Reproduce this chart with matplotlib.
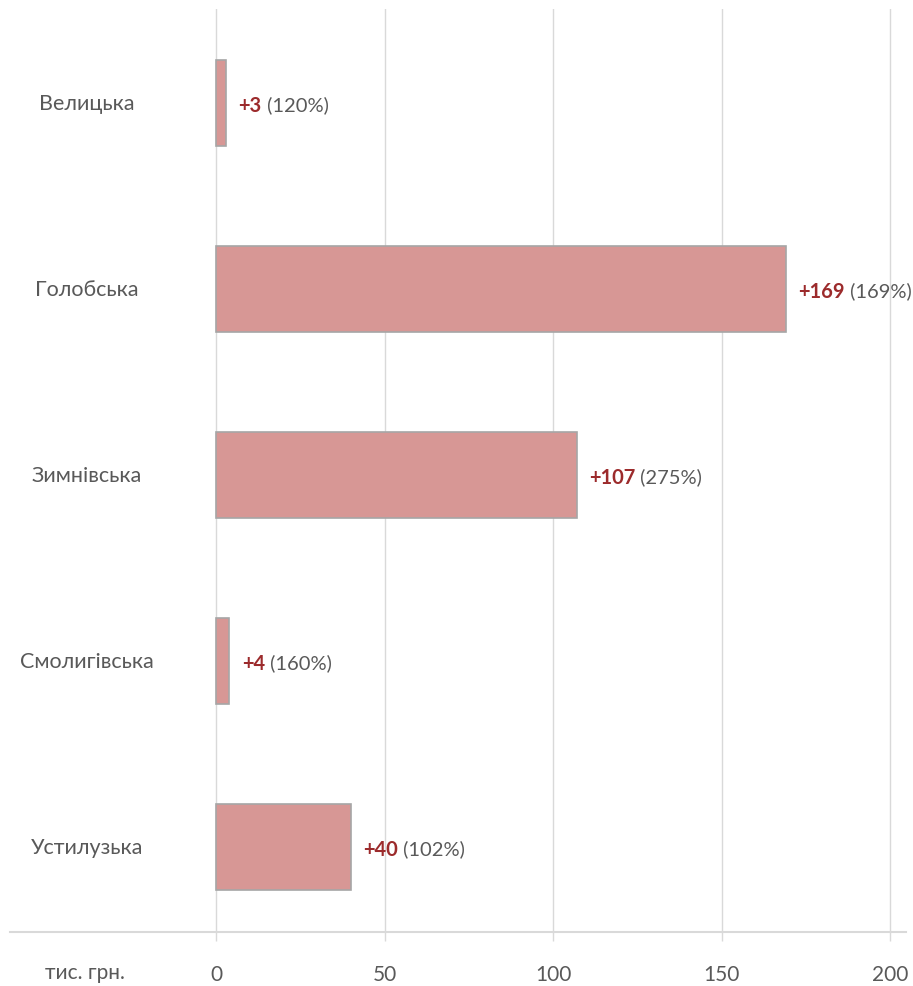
import matplotlib.pyplot as plt

categories = ['Велицька', 'Голобська', 'Зимнівська', 'Смолигівська', 'Устилузька']
values = [3, 169, 107, 4, 40]
growth = ['+3', '+169', '+107', '+4', '+40']
percents = ['(120%)', '(169%)', '(275%)', '(160%)', '(102%)']
x_ticks = [0, 50, 100, 150, 200]
unit_label = 'тис. грн.'

plt.rcParams['font.family'] = ['Lato', 'DejaVu Sans']

W, H = 913, 987
fig = plt.figure(figsize=(W / 100, H / 100), dpi=100)
ax = fig.add_axes([10 / W, 1 - 933 / H, 896 / W, 923 / H])

grid_c = '#D9D9D9'
text_c = '#595959'

pos = list(range(len(categories)))
ax.barh(pos, values, height=0.457, color='#D79795', edgecolor='#A6A6A6',
        linewidth=1.2, zorder=3)

px_per_unit = 674 / 200
ax.set_xlim(-206 / px_per_unit, 200 + 16 / px_per_unit)
ax.set_ylim((933 - 104) / 186, -94 / 186)

renderer = fig.canvas.get_renderer()
for i, (v, g, p) in enumerate(zip(values, growth, percents)):
    t = ax.annotate(g, xy=(v, i), xytext=(9, 0), textcoords='offset points',
                    ha='left', va='center_baseline', fontsize=14.5,
                    fontweight='bold', color='#9C2B2C', zorder=4)
    w_pt = t.get_window_extent(renderer).width * 72 / fig.dpi
    ax.annotate(' ' + p, xy=(v, i), xytext=(9 + w_pt, 0),
                textcoords='offset points', ha='left', va='center_baseline',
                fontsize=14.5, color=text_c, zorder=4)
    ax.text(-129 / px_per_unit, i, categories[i], ha='center', va='center',
            fontsize=15.5, color=text_c)

ax.set_xticks(x_ticks)
ax.set_xticklabels([str(x) for x in x_ticks], fontsize=15, color=text_c)
ax.tick_params(axis='x', length=6.5, width=1, color=grid_c, pad=16.5)
ax.set_yticks([])
ax.grid(axis='x', color=grid_c, linewidth=1, zorder=0)
for s in ['left', 'top', 'right']:
    ax.spines[s].set_visible(False)
ax.spines['bottom'].set_color(grid_c)
ax.spines['bottom'].set_linewidth(1.5)

fig.text(85 / W, 1 - 973 / H, unit_label, ha='center', va='center',
         fontsize=15, color=text_c)

fig.savefig('out.png', dpi=100)
